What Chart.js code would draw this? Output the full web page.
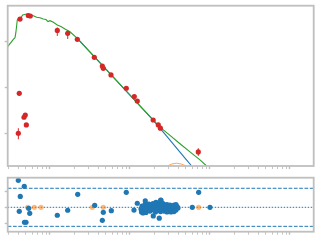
<!DOCTYPE html>
<html>
<head>
<meta charset="utf-8">
<script src="https://cdn.jsdelivr.net/npm/chart.js@4.4.1/dist/chart.umd.min.js"></script>
<style>
  html, body { margin: 0; padding: 0; background: #fff; }
  #wrap { position: relative; width: 320px; height: 240px; overflow: hidden; }
  canvas { position: absolute; left: 0; }
  #sedChart { top: 0; }
  #resChart { top: 172px; }
</style>
</head>
<body>
<div id="wrap">
  <canvas id="sedChart" width="320" height="172"></canvas>
  <canvas id="resChart" width="320" height="68"></canvas>
</div>
<script>
// photometry: wavelength, flux, error bar ends (null = bar hidden by marker)
const photX  = [0.0422, 0.0535, 0.0567, 0.1234, 0.1665, 0.2195, 0.358, 0.451, 0.464, 0.579, 0.899, 1.132, 1.234, 1.95, 2.26, 2.40, 7.14, 0.0413, 0.0491, 0.0473, 0.0506, 0.0402];
const photY  = [317, 378, 369, 178, 154, 114, 46.0, 29.7, 26.4, 18.9, 9.66, 6.38, 5.09, 1.95, 1.52, 1.29, 0.390, 7.50, 2.51, 2.24, 1.52, 1.00];
const photLo = [280, null, null, 135, 116, null, null, null, null, null, null, null, null, null, null, null, 0.319, null, null, null, null, 0.739];
const photHi = [345, null, null, 205, 178, null, null, null, null, null, null, null, null, null, null, null, 0.470, null, null, null, null, 1.29];

// total model (green)
const totalX = [0.0296, 0.0348, 0.0365, 0.0374, 0.039, 0.0413, 0.0428, 0.0456, 0.0511, 0.0562, 0.0618, 0.0682, 0.0750, 0.0825, 0.0891, 0.0944, 0.1, 0.109, 0.1234, 0.137, 0.154, 0.178, 0.2195, 1.778, 2.054, 2.371, 3.162, 4.217, 5.623, 7.499, 9.09, 11.55];
const totalY = [78.5, 114, 124, 157, 301, 339, 328, 388, 408, 398, 374, 345, 337, 317, 309, 279, 291, 272, 234, 217, 192, 167, 119, 2.30, 1.77, 1.36, 0.896, 0.589, 0.390, 0.261, 0.192, 0.135];

// stellar component (blue)
const starX = [0.2195, 1.778, 2.054, 2.738, 3.652, 4.870, 5.91, 7.499];
const starY = [119, 2.30, 1.74, 0.956, 0.522, 0.285, 0.192, 0.116];

// dust bump (orange)
const dustX = [2.371, 2.661, 2.985, 3.350, 3.835, 4.34, 4.87, 5.46, 6.13];
const dustY = [0.142, 0.174, 0.1945, 0.213, 0.221, 0.213, 0.197, 0.174, 0.142];

// residuals
const resX = [0.0402, 0.0477, 0.0425, 0.222, 0.0413, 0.0542, 0.0558, 0.0501, 0.048, 0.1234, 0.1665, 0.362, 0.464, 0.451, 0.899, 7.22, 0.584, 1.122, 1.234, 6.01, 10, 1.955, 2.323, 2.42, 2.113, 1.553,
  1.373, 1.393, 1.413, 1.454, 1.454, 1.496, 1.540, 1.562, 1.585, 1.631, 1.679, 1.728, 1.778, 1.778, 1.830, 1.884, 1.939, 1.995, 1.995, 2.054, 2.083, 2.113, 2.175, 2.239, 2.239, 2.304,
  2.371, 2.406, 2.441, 2.512, 2.512, 2.585, 2.661, 2.661, 2.738, 2.818, 2.901, 2.901, 2.985, 3.073, 3.162, 3.162, 3.255, 3.350, 3.447, 3.548, 3.548, 3.652, 3.758, 3.758, 3.868, 3.981];
const resY = [1.66, 1.29, 0.67, 0.80, -0.245, -0.06, -0.37, -0.92, -0.92, -0.49, -0.18, 0.12, -0.31, -0.80, 0.92, 0.92, -0.21, -0.17, 0.25, 0, 0, -0.53, -0.67, 0.45, 0.31, 0.39,
  -0.10, -0.29, 0.08, -0.17, -0.35, 0.02, 0.17, -0.17, -0.32, 0.08, -0.10, 0.20, 0.02, -0.23, 0.14, -0.10, 0.23, 0.08, -0.17, 0.20, -0.29, -0.04, 0.26, 0.11, -0.17, -0.01,
  0.20, -0.26, 0.42, 0.08, -0.10, 0.23, 0.02, -0.23, 0.14, -0.07, 0.17, -0.29, 0.02, -0.17, 0.14, -0.04, -0.29, 0.08, -0.13, 0.14, -0.26, -0.01, 0.17, -0.17, 0.05, -0.04];
// upper limits sitting on zero
const limX = [0.0526, 0.0637, 0.0772, 0.338, 0.464, 7.22];
const limY = [0, 0, 0, 0, 0, 0];

const xMin = 0.0296, xMax = 198;
const xMajor = [0.01, 0.1, 1, 10, 100];
const yTopMajor = [1, 10, 100];
const yResMajor = [-1, 0, 1];
const resBand = 1.17;

const spine = '#bfbfbf';

const pts = (xs, ys) => xs.map((v, i) => ({ x: v, y: ys[i] }));

// log ticks: decades are major, 2..9 minor
function logTickList(majors, min, max) {
  const out = [];
  majors.forEach((d) => {
    for (let m = 1; m < 10; m++) {
      const v = m * d;
      if (v >= min && v <= max) out.push({ value: v, major: m === 1 });
    }
  });
  return out;
}

function axis(type, min, max, ticks) {
  return {
    type,
    min,
    max,
    bounds: 'data',
    afterBuildTicks: (scale) => { scale.ticks = ticks; },
    ticks: { display: false },
    border: { display: false },
    grid: {
      drawOnChartArea: false,
      drawTicks: true,
      tickLength: 3,
      color: spine,
      tickWidth: (c) => (c.tick && c.tick.major ? 1.4 : 0.9),
    },
  };
}

const framePlugin = {
  id: 'frame',
  afterDatasetsDraw(chart) {
    const { ctx, chartArea: a } = chart;
    ctx.save();
    ctx.strokeStyle = spine;
    ctx.lineWidth = 1.8;
    ctx.strokeRect(a.left, a.top, a.right - a.left, a.bottom - a.top);
    ctx.restore();
  },
};

const errorBarPlugin = {
  id: 'errorBars',
  afterDatasetsDraw(chart) {
    const { ctx, scales: { x, y } } = chart;
    ctx.save();
    ctx.strokeStyle = '#d62728';
    ctx.lineWidth = 1;
    photX.forEach((v, i) => {
      if (photLo[i] == null) return;
      const px = x.getPixelForValue(v);
      ctx.beginPath();
      ctx.moveTo(px, y.getPixelForValue(photLo[i]));
      ctx.lineTo(px, y.getPixelForValue(photHi[i]));
      ctx.stroke();
    });
    ctx.restore();
  },
};

const common = {
  responsive: false,
  animation: false,
  plugins: { legend: { display: false }, tooltip: { enabled: false } },
};

// SED panel
new Chart(document.getElementById('sedChart'), {
  type: 'scatter',
  data: {
    datasets: [
      { data: pts(photX, photY), backgroundColor: '#d62728', borderWidth: 0, pointRadius: 2.6, order: 0 },
      { data: pts(totalX, totalY), showLine: true, borderColor: '#2ca02c', borderWidth: 1.1, pointRadius: 0, order: 1 },
      { data: pts(starX, starY), showLine: true, borderColor: '#1f77b4', borderWidth: 1.1, pointRadius: 0, order: 2 },
      { data: pts(dustX, dustY), showLine: true, borderColor: 'rgba(255,127,14,0.7)', borderWidth: 1, pointRadius: 0, order: 3 },
    ],
  },
  options: {
    ...common,
    layout: { padding: { left: 4.7, top: 5.7, right: 6.3, bottom: 3 } },
    scales: {
      x: axis('logarithmic', xMin, xMax, logTickList(xMajor, xMin, xMax)),
      y: axis('logarithmic', 0.192, 620, yTopMajor.map((v) => ({ value: v, major: true }))),
    },
  },
  plugins: [errorBarPlugin, framePlugin],
});

// residual panel
new Chart(document.getElementById('resChart'), {
  type: 'scatter',
  data: {
    datasets: [
      { data: pts(resX, resY), backgroundColor: '#1f77b4', borderWidth: 0, pointRadius: 2.6, order: 0 },
      { data: pts(limX, limY), backgroundColor: 'rgba(255,127,14,0.55)', borderWidth: 0, pointRadius: 2.6, order: 1 },
      { data: [{ x: xMin, y: resBand }, { x: xMax, y: resBand }], showLine: true, borderColor: '#1f77b4', borderWidth: 1, borderDash: [3.7, 1.6], pointRadius: 0, order: 2 },
      { data: [{ x: xMin, y: -resBand }, { x: xMax, y: -resBand }], showLine: true, borderColor: '#1f77b4', borderWidth: 1, borderDash: [3.7, 1.6], pointRadius: 0, order: 2 },
      { data: [{ x: xMin, y: 0 }, { x: xMax, y: 0 }], showLine: true, borderColor: '#1f77b4', borderWidth: 1, borderDash: [1.5, 1.5], pointRadius: 0, order: 3 },
    ],
  },
  options: {
    ...common,
    layout: { padding: { left: 4.7, top: 5.7, right: 6.3, bottom: 5.3 } },
    scales: {
      x: axis('logarithmic', xMin, xMax, logTickList(xMajor, xMin, xMax)),
      y: axis('linear', -1.5, 1.82, yResMajor.map((v) => ({ value: v, major: true }))),
    },
  },
  plugins: [framePlugin],
});
</script>
</body>
</html>
